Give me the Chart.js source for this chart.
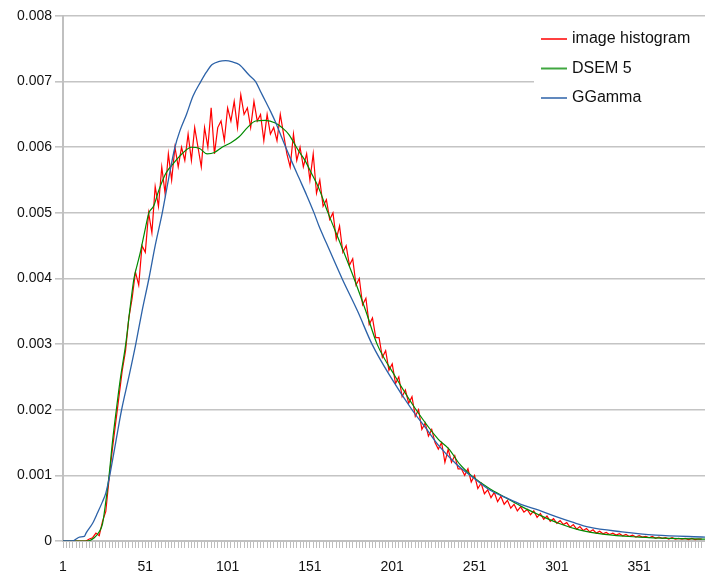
<!DOCTYPE html>
<html>
<head>
<meta charset="utf-8">
<script src="https://cdn.jsdelivr.net/npm/chart.js@4/dist/chart.umd.min.js"></script>
<style>
  body { margin: 0; background: #fff; }
  canvas { display: block; }
</style>
</head>
<body>
<canvas id="density" width="705" height="580"></canvas>
<script>
// series names, in legend order
const seriesNames = ['image histogram', 'DSEM 5', 'GGamma'];

// y axis ticks
const yTicks = [0, 0.001, 0.002, 0.003, 0.004, 0.005, 0.006, 0.007, 0.008];
// x axis labelled categories
const xTickLabels = [1, 51, 101, 151, 201, 251, 301, 351];

// image histogram, read every 2nd grey level (1, 3, 5 ... 389)
const histValues = [
  0, 0, 0, 0, 0, 0, 0, 0, 0.00003, 0.00005,
  0.00012, 0.00008, 0.0003, 0.00045, 0.00095, 0.0014, 0.0018, 0.0022, 0.0026, 0.0029,
  0.0034, 0.0037, 0.0041, 0.0039, 0.0045, 0.0044, 0.0050, 0.0047, 0.0054, 0.0051,
  0.0057, 0.0053, 0.0059, 0.0055, 0.0060, 0.0057, 0.0060, 0.0058, 0.0062, 0.0058,
  0.0063, 0.0060, 0.0057, 0.0063, 0.0060, 0.0066, 0.0059, 0.0063, 0.0064, 0.0061,
  0.0066, 0.0064, 0.0067, 0.0063, 0.0068, 0.0065, 0.0066, 0.0063, 0.0067, 0.0064,
  0.0065, 0.0061, 0.0065, 0.0062, 0.0063, 0.0061, 0.0065, 0.0062, 0.0059, 0.0057,
  0.0062, 0.0058, 0.0060, 0.0057, 0.0059, 0.0055, 0.0059, 0.0053, 0.0055, 0.0051,
  0.0052, 0.0049, 0.0050, 0.0046, 0.0048, 0.0044, 0.0045, 0.0042, 0.0043, 0.0039,
  0.0040, 0.0036, 0.0037, 0.0033, 0.0034, 0.0031, 0.0031, 0.0028, 0.0029, 0.0026,
  0.0027, 0.0024, 0.0025, 0.0022, 0.0023, 0.0021, 0.0022, 0.0019, 0.0020, 0.0017,
  0.0018, 0.0016, 0.0017, 0.0015, 0.0014, 0.0015, 0.0012, 0.0014, 0.0012, 0.0013,
  0.0011, 0.0011, 0.0010, 0.0011, 0.0009, 0.0010, 0.0008, 0.00088, 0.00072, 0.00078,
  0.00066, 0.00074, 0.0006, 0.00068, 0.00056, 0.00062, 0.0005, 0.00056, 0.00046, 0.00052,
  0.00044, 0.00048, 0.0004, 0.00046, 0.00036, 0.00042, 0.00033, 0.00038, 0.0003, 0.00034,
  0.00027, 0.00031, 0.00025, 0.00028, 0.00021, 0.00025, 0.00018, 0.00022, 0.00016, 0.00019,
  0.00014, 0.00017, 0.00012, 0.00015, 0.00011, 0.00013, 0.0001, 0.00012, 0.00009, 0.00011,
  0.00008, 0.0001, 0.00007, 0.00009, 0.00006, 0.00008, 0.00006, 0.00007, 0.00005, 0.00007,
  0.00004, 0.00006, 0.00004, 0.00005, 0.00003, 0.00005, 0.00003, 0.00004, 0.00003, 0.00004,
  0.00002, 0.00004, 0.00002, 0.00003, 0.00003
];

// DSEM 5 fit
const dsemX = [1, 15.6, 20, 23, 25, 27, 29, 31, 33.4, 36, 39.1, 41.5, 44.1, 46, 48, 50.5, 53.2, 56, 59.3, 63.4,
  68, 73.3, 79, 84, 88.5, 93, 97.6, 103, 108, 113, 118, 124, 130, 134, 138, 144, 148, 152, 156, 162,
  170, 177.8, 185, 191.8, 203, 215.5, 229, 235.5, 242, 249, 260, 270, 280, 290, 302, 314.5, 330, 351, 370, 391];
const dsemY = [0, 0, 0.00005, 0.00014, 0.00026, 0.0006, 0.001, 0.0015, 0.002, 0.0025, 0.003, 0.0035, 0.004, 0.0042, 0.0044, 0.0047, 0.005, 0.0051, 0.00535, 0.0056,
  0.00575, 0.0059, 0.006, 0.00598, 0.0059, 0.00592, 0.006, 0.00607, 0.00616, 0.0063, 0.0064, 0.00641, 0.00637, 0.0063, 0.0062, 0.00595, 0.0058, 0.0056, 0.0054, 0.005,
  0.0045, 0.004, 0.0035, 0.003, 0.0025, 0.002, 0.00155, 0.0014, 0.00117, 0.001, 0.0008, 0.00066, 0.00052, 0.0004, 0.00027, 0.00017, 0.0001, 0.00006, 0.00004, 0.00003];

// GGamma fit
const ggammaX = [1, 7, 9, 11, 14, 15, 19, 22, 25, 27, 29.4, 33, 36.6, 41, 45.2, 49, 53.2, 57, 61.3, 65,
  69, 72, 76, 80, 84.7, 88, 91.6, 96, 99.8, 104, 108, 114, 118, 121, 124, 127, 130, 134, 138.3, 144.4,
  149, 153.5, 156.5, 161, 170.5, 180, 188.7, 200, 213, 222, 229, 240, 249.5, 260, 270, 280, 290, 300.5, 310, 320.6,
  340.6, 361, 391];
const ggammaY = [0, 0, 0.00003, 0.00006, 0.00007, 0.00012, 0.00027, 0.00043, 0.0006, 0.00073, 0.001, 0.0015, 0.002, 0.0025, 0.003, 0.0035, 0.004, 0.0045, 0.005, 0.0055,
  0.006, 0.00625, 0.0065, 0.00678, 0.007, 0.00714, 0.00726, 0.00731, 0.00732, 0.0073, 0.00726, 0.0071, 0.007, 0.00685, 0.0067, 0.00655, 0.00639, 0.00614, 0.00588, 0.00553,
  0.00527, 0.005, 0.0048, 0.00454, 0.004, 0.0035, 0.003, 0.0025, 0.002, 0.0017, 0.00146, 0.00117, 0.00098, 0.00078, 0.00066, 0.00055, 0.00047, 0.00037, 0.00029, 0.00021,
  0.00014, 0.00009, 0.00006];

const histPoints = histValues.map((v, i) => ({ x: 1 + i * 2, y: v }));
const dsemPoints = dsemX.map((x, i) => ({ x: x, y: dsemY[i] }));
const ggammaPoints = ggammaX.map((x, i) => ({ x: x, y: ggammaY[i] }));

const colors = ['#ff0000', '#008a00', '#2c62a8'];

// legend drawn inside the plot, top right, on white
const boxLegend = {
  id: 'boxLegend',
  afterDatasetsDraw(chart) {
    const ctx = chart.ctx;
    ctx.save();
    ctx.fillStyle = '#ffffff';
    ctx.fillRect(534, 22, 171, 90);
    ctx.font = '16px "Liberation Sans", Arial, sans-serif';
    ctx.textBaseline = 'middle';
    chart.data.datasets.forEach((ds, i) => {
      const y = 39 + i * 29.5;
      ctx.strokeStyle = ds.borderColor;
      ctx.globalAlpha = 0.75;
      ctx.lineWidth = 2;
      ctx.beginPath();
      ctx.moveTo(541, y);
      ctx.lineTo(567, y);
      ctx.stroke();
      ctx.globalAlpha = 1;
      ctx.fillStyle = '#111';
      ctx.fillText(ds.label, 572, y);
    });
    ctx.restore();
  }
};

new Chart(document.getElementById('density'), {
  type: 'line',
  data: {
    datasets: [
      { label: seriesNames[0], data: histPoints, borderColor: colors[0], borderWidth: 1.2, order: 3 },
      { label: seriesNames[1], data: dsemPoints, borderColor: colors[1], borderWidth: 1.2, order: 2, cubicInterpolationMode: 'monotone' },
      { label: seriesNames[2], data: ggammaPoints, borderColor: colors[2], borderWidth: 1.3, order: 1, cubicInterpolationMode: 'monotone' }
    ]
  },
  options: {
    responsive: false,
    animation: false,
    layout: { padding: { top: 16, right: 0, bottom: 0, left: 0 } },
    elements: { point: { radius: 0 }, line: { tension: 0, fill: false } },
    plugins: { legend: { display: false }, tooltip: { enabled: false } },
    scales: {
      x: {
        type: 'linear',
        min: 1,
        max: 391,
        afterFit(scale) { scale.height = 39; },
        ticks: {
          stepSize: 2,
          autoSkip: false,
          maxRotation: 0,
          padding: 0,
          color: '#111',
          font: { family: '"Liberation Sans", Arial, sans-serif', size: 14, lineHeight: 2.7 },
          callback: (v) => xTickLabels.includes(v) ? String(v) : ''
        },
        grid: { drawOnChartArea: false, tickLength: 7, color: '#bdbdbd', lineWidth: 1 },
        border: { color: '#c0c0c0', width: 2 }
      },
      y: {
        min: yTicks[0],
        max: yTicks[yTicks.length - 1],
        afterFit(scale) { scale.width = 63; },
        afterBuildTicks(scale) { scale.ticks = yTicks.map(v => ({ value: v })); },
        ticks: {
          padding: 3,
          color: '#111',
          font: { family: '"Liberation Sans", Arial, sans-serif', size: 14 },
          callback: (v) => String(v)
        },
        grid: { color: '#c4c4c4', lineWidth: 1.6, tickLength: 8 },
        border: { color: '#c0c0c0', width: 2 }
      }
    }
  },
  plugins: [boxLegend]
});
</script>
</body>
</html>
